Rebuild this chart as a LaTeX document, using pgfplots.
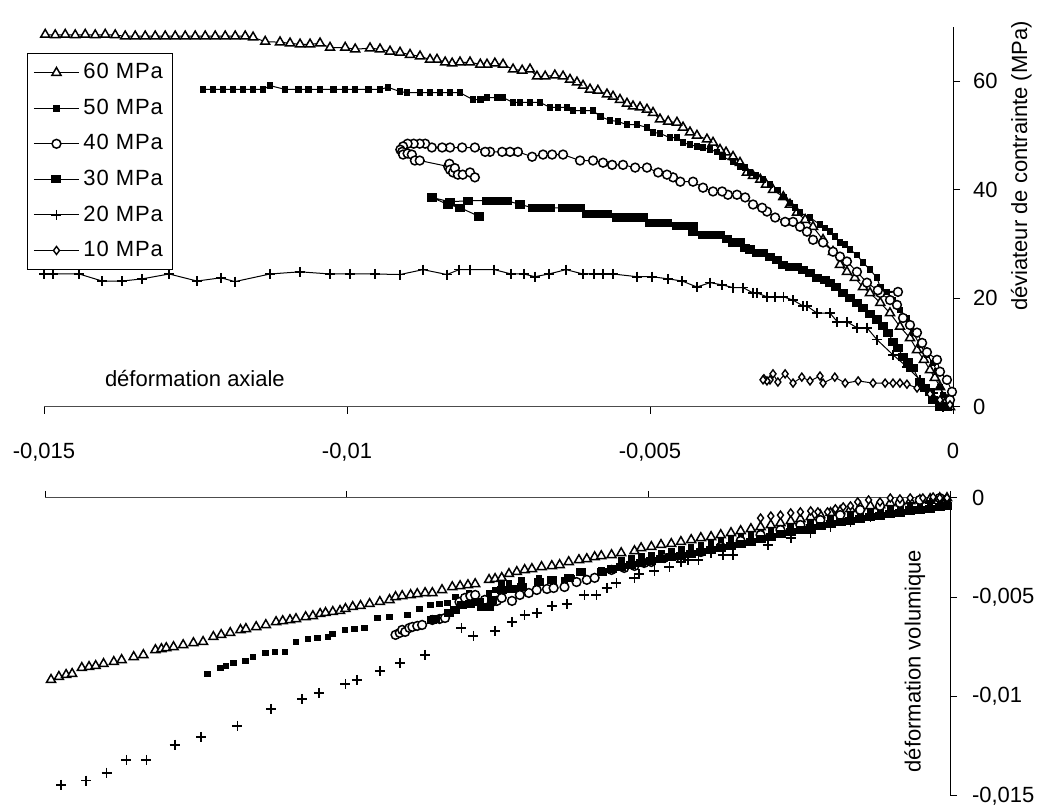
\documentclass[border=0pt]{standalone}
\usepackage{pgfplots}
\pgfplotsset{compat=1.18}
\usepackage{fontspec}
\setmainfont{Liberation Sans}
\newfontfamily\legfont[LetterSpace=4]{Liberation Sans}
\begin{document}
\begin{tikzpicture}
\useasboundingbox (0,0) rectangle (522.5pt,403.5pt);
\pgfplotsset{
  common/.style={
    scale only axis, clip=false, scaled ticks=false,
    tick align=outside, major tick length=3.5pt,
    tick style={black, line width=0.5pt},
    axis line style={-, line width=0.5pt},
    every tick label/.append style={font=\fontsize{11}{13}\selectfont},
  },
  m60/.style={black, line width=0.5pt, mark=triangle*, mark size=2.6pt, mark options={solid, fill=white, line width=0.75pt}},
  m50/.style={black, line width=0.5pt, mark=square*, mark size=1.4pt, mark options={solid}},
  m40/.style={black, line width=0.5pt, mark=*, mark size=2.2pt, mark options={solid, fill=white, line width=0.75pt}},
  m30/.style={black, line width=0.5pt, mark=square*, mark size=1.8pt, mark options={solid, xscale=1.25}},
  m20/.style={black, line width=0.5pt, mark=+, mark size=2.5pt, mark options={solid, line width=0.8pt}},
  m10/.style={black, line width=0.5pt, mark=diamond*, mark size=2pt, mark options={solid, fill=white, line width=0.7pt}},
}
% ---------------- top axis ----------------
\begin{axis}[common, at={(22pt,200pt)}, anchor=south west,
  width=454.5pt, height=190pt,
  xmin=-0.015, xmax=0, ymin=0, ymax=70,
  axis x line*=bottom, axis y line*=right,
  x axis line style={black!70},
  xtick={-0.015,-0.01,-0.005,0}, xticklabels={{-0,015},{-0,01},{-0,005},{0}},
  xticklabel style={yshift=-11pt},
  ytick={0,20,40,60}, yticklabels={0,20,40,60},
  yticklabel style={xshift=3pt},
  legend image code/.code={\draw[mark repeat=2,mark phase=2] plot coordinates {(0pt,0pt) (11.25pt,0pt) (22.5pt,0pt)};},
  legend cell align=left,
  legend style={at={(-0.0187,0.9316)}, anchor=north west, draw=black, line width=0.5pt,
    font=\legfont\fontsize{11}{13}\selectfont, row sep=4.6pt, inner xsep=3pt, inner ysep=3pt},
]
\addplot[m60] coordinates {(-0.00005,0) (-0.0001,1.3) (-0.000215,3.7) (-0.0003,5.4) (-0.00038,6.8) (-0.00048,8.7) (-0.000594,10.5) (-0.00071,12.7) (-0.000875,14.8) (-0.00104,17.3) (-0.0012,19.2) (-0.00137,21.0) (-0.001485,22.1) (-0.00162,23.8) (-0.00175,24.9) (-0.001865,26.2) (-0.00198,28.6) (-0.002145,30.8) (-0.00231,33.2) (-0.00244,34.5) (-0.002575,35.8) (-0.00269,37.3) (-0.0028,38.7) (-0.00297,40.0) (-0.003085,41.0) (-0.00318,41.9) (-0.0033,42.6) (-0.0034,43.2) (-0.003515,45.0) (-0.00363,46.1) (-0.003745,46.9) (-0.003845,47.4) (-0.00396,48.7) (-0.00406,49.3) (-0.004225,50.0) (-0.00434,50.6) (-0.004455,51.5) (-0.004555,52.4) (-0.0047,52.6) (-0.004835,53.0) (-0.00495,54.2) (-0.00505,54.8) (-0.005165,55.2) (-0.00528,55.4) (-0.00538,55.9) (-0.005495,56.6) (-0.00561,57.2) (-0.00571,57.6) (-0.00586,58.3) (-0.00599,58.5) (-0.006105,59.2) (-0.006205,59.8) (-0.00632,60.3) (-0.006435,60.9) (-0.00657,61.1) (-0.00673,60.9) (-0.006865,60.9) (-0.00698,62.2) (-0.00711,62.0) (-0.00726,62.2) (-0.007425,63.1) (-0.00756,63.3) (-0.00769,63.1) (-0.0078,63.1) (-0.00797,63.5) (-0.008135,63.5) (-0.008265,63.3) (-0.00838,63.5) (-0.008515,64.0) (-0.00863,64.0) (-0.008795,64.6) (-0.00896,64.9) (-0.009125,65.3) (-0.00929,65.5) (-0.009455,65.9) (-0.00962,66.1) (-0.009865,65.9) (-0.01003,66.2) (-0.01028,66.2) (-0.010445,67.0) (-0.01061,66.8) (-0.010775,66.8) (-0.01094,67.0) (-0.011105,67.2) (-0.01135,67.3) (-0.01155,68.1) (-0.01168,68.3) (-0.011845,68.3) (-0.01201,68.3) (-0.012175,68.3) (-0.01234,68.3) (-0.012505,68.3) (-0.01267,68.3) (-0.012835,68.3) (-0.013,68.3) (-0.013165,68.3) (-0.01333,68.3) (-0.013495,68.3) (-0.01366,68.3) (-0.013825,68.5) (-0.01399,68.6) (-0.014155,68.5) (-0.01432,68.6) (-0.014485,68.5) (-0.01465,68.6) (-0.014815,68.5) (-0.01498,68.6)};
\addlegendentry{60 MPa}
\addplot[m50] coordinates {(-0.0001,0) (-0.000165,2.2) (-0.000215,3.7) (-0.000264,6.5) (-0.00033,8.1) (-0.00043,9.6) (-0.000545,11.4) (-0.00066,13.7) (-0.00076,16.4) (-0.000875,17.9) (-0.00099,19.7) (-0.0011,21.2) (-0.0012,22.0) (-0.001255,23.8) (-0.00137,25.3) (-0.001485,26.6) (-0.001585,28.0) (-0.0017,29.0) (-0.00178,29.9) (-0.001865,30.3) (-0.00195,31.4) (-0.00203,32.3) (-0.00211,33.0) (-0.002195,33.6) (-0.00236,34.9) (-0.002525,35.8) (-0.00261,36.7) (-0.00269,37.6) (-0.0028,38.7) (-0.0029,40.0) (-0.00302,41.0) (-0.003135,41.9) (-0.00325,42.6) (-0.00335,43.2) (-0.00343,44.1) (-0.003515,44.3) (-0.00363,45.2) (-0.0038,46.1) (-0.003895,47.0) (-0.00401,47.4) (-0.004125,47.8) (-0.004225,48.0) (-0.00434,48.3) (-0.004455,48.7) (-0.004555,49.6) (-0.00467,49.6) (-0.004835,50.4) (-0.00495,50.6) (-0.00505,51.5) (-0.005215,52.0) (-0.00538,52.0) (-0.00553,52.6) (-0.00566,52.8) (-0.00582,53.5) (-0.00594,54.6) (-0.006105,54.6) (-0.00627,54.6) (-0.00637,55.2) (-0.006515,55.2) (-0.00665,55.2) (-0.006815,56.1) (-0.00698,56.1) (-0.007145,56.1) (-0.00726,56.1) (-0.007425,57.0) (-0.007525,57.0) (-0.00769,57.0) (-0.0078,56.6) (-0.00792,56.6) (-0.008135,57.9) (-0.0083,57.9) (-0.008465,57.9) (-0.00863,57.9) (-0.008795,57.9) (-0.00901,57.9) (-0.009125,58.1) (-0.009325,58.9) (-0.009455,58.5) (-0.00965,58.5) (-0.009865,58.5) (-0.01003,58.5) (-0.010225,58.5) (-0.010445,58.5) (-0.01064,58.5) (-0.010805,58.5) (-0.01102,58.5) (-0.01127,59.2) (-0.011385,58.5) (-0.01155,58.5) (-0.011715,58.5) (-0.01188,58.5) (-0.012045,58.5) (-0.01221,58.5) (-0.012375,58.5)};
\addlegendentry{50 MPa}
\addplot[m40] coordinates {(-0.00005,1.3) (-0.0000165,2.8) (-0.0001,5.0) (-0.000215,6.5) (-0.000264,8.7) (-0.00043,10.1) (-0.00051,11.8) (-0.000594,13.7) (-0.00071,15.1) (-0.000825,16.4) (-0.000924,18.8) (-0.00104,19.7) (-0.0012,21.0) (-0.000908,21.2) (-0.00124,21.5) (-0.00142,22.9) (-0.001585,24.9) (-0.00175,26.8) (-0.001865,27.7) (-0.00198,28.6) (-0.002145,30.3) (-0.00231,30.8) (-0.00241,32.3) (-0.002525,33.2) (-0.00264,34.1) (-0.00277,34.1) (-0.002935,34.9) (-0.00307,36.0) (-0.00315,36.7) (-0.0033,37.3) (-0.00343,38.6) (-0.003565,39.1) (-0.003715,39.1) (-0.00381,39.7) (-0.00396,39.7) (-0.004125,40.4) (-0.00429,41.5) (-0.0045,41.5) (-0.00462,42.3) (-0.00472,42.8) (-0.004865,43.2) (-0.00505,44.1) (-0.005245,44.1) (-0.005445,44.6) (-0.005625,44.6) (-0.005775,45.0) (-0.00594,45.4) (-0.006155,45.4) (-0.006435,46.5) (-0.006615,46.5) (-0.006765,46.5) (-0.006945,46.1) (-0.00718,47.0) (-0.00731,47.0) (-0.00744,47.0) (-0.00764,47.0) (-0.00772,47.0) (-0.00789,47.8) (-0.0081,47.8) (-0.0083,47.8) (-0.00843,47.8) (-0.0086,47.8) (-0.00871,48.5) (-0.0088,48.5) (-0.0089,48.5) (-0.009,48.5) (-0.009075,48.0) (-0.00912,47.4) (-0.00909,47.0) (-0.009075,46.5) (-0.009,46.7) (-0.00893,46.5) (-0.00888,45.4) (-0.0088,45.4) (-0.00833,44.3) (-0.00831,44.8) (-0.0083,43.7) (-0.00825,43.2) (-0.00822,44.0) (-0.00817,42.8) (-0.00809,42.8) (-0.00797,43.2) (-0.00789,42.3)};
\addlegendentry{40 MPa}
\addplot[m30] coordinates {(-0.0001,0) (-0.000215,0) (-0.00033,1.3) (-0.00038,2.8) (-0.00046,3.5) (-0.000545,4.6) (-0.00066,7.2) (-0.00074,8.3) (-0.000825,9.2) (-0.000908,10.9) (-0.00099,12.0) (-0.00107,13.7) (-0.001155,14.9) (-0.001255,16.1) (-0.00137,17.2) (-0.001485,18.3) (-0.001585,19.2) (-0.0017,20.1) (-0.001815,21.0) (-0.00193,22.1) (-0.00203,22.9) (-0.00211,23.4) (-0.002245,23.8) (-0.00236,24.7) (-0.002475,25.3) (-0.002575,25.8) (-0.00269,25.8) (-0.0028,26.2) (-0.0029,27.1) (-0.00302,27.7) (-0.003135,28.4) (-0.003235,28.4) (-0.00335,29.0) (-0.00343,29.3) (-0.003515,30.3) (-0.00363,30.3) (-0.00373,31.0) (-0.003845,31.7) (-0.00398,31.7) (-0.004125,31.7) (-0.00429,32.3) (-0.00429,33.4) (-0.00442,33.4) (-0.004555,33.4) (-0.00472,33.9) (-0.004865,33.9) (-0.005,33.9) (-0.005115,34.9) (-0.005245,34.9) (-0.005395,34.9) (-0.00554,34.9) (-0.00571,35.6) (-0.005875,35.6) (-0.00604,35.6) (-0.006155,36.7) (-0.00632,36.7) (-0.006435,36.7) (-0.00665,36.7) (-0.006815,36.7) (-0.00693,36.7) (-0.007145,37.3) (-0.00736,38.0) (-0.007525,38.0) (-0.00769,38.0) (-0.008,38.0) (-0.0083,37.8) (-0.0086,38.6) (-0.008335,37.3) (-0.00813,36.7) (-0.00782,35.1)};
\addlegendentry{30 MPa}
\addplot[m20] coordinates {(-0.000165,0) (-0.00033,2.6) (-0.000545,5.0) (-0.00076,7.4) (-0.00099,9.6) (-0.001255,12.4) (-0.00142,14.6) (-0.001585,14.6) (-0.00175,15.7) (-0.00191,15.7) (-0.00203,17.3) (-0.002245,17.3) (-0.00241,18.6) (-0.002475,18.6) (-0.00264,19.7) (-0.0028,20.3) (-0.002935,20.3) (-0.00307,20.3) (-0.003235,21.0) (-0.0033,21.0) (-0.003465,22.0) (-0.00363,22.0) (-0.00381,22.5) (-0.00401,22.9) (-0.004225,22.1) (-0.00447,23.2) (-0.0047,23.6) (-0.004965,24.0) (-0.005215,24.0) (-0.00561,24.5) (-0.005775,24.5) (-0.005925,24.5) (-0.006105,24.5) (-0.006385,25.3) (-0.00667,24.5) (-0.0069,24.0) (-0.00708,24.5) (-0.00729,24.5) (-0.00757,25.3) (-0.00797,25.3) (-0.00815,25.3) (-0.00835,24.4) (-0.008745,25.3) (-0.009125,24.4) (-0.00954,24.5) (-0.00995,24.5) (-0.01028,24.5) (-0.010775,24.9) (-0.01127,24.5) (-0.01185,23.1) (-0.01208,23.8) (-0.012475,23.2) (-0.012935,24.5) (-0.01338,23.6) (-0.01371,23.2) (-0.01404,23.2) (-0.01442,24.5) (-0.01485,24.5) (-0.0150,24.5)};
\addlegendentry{20 MPa}
\addplot[m10] coordinates {(-0.00005,0.4) (-0.000215,1.3) (-0.00038,2.4) (-0.000594,3.5) (-0.00076,4.2) (-0.000875,4.4) (-0.00099,4.4) (-0.00112,4.4) (-0.00132,4.4) (-0.001565,4.8) (-0.00178,4.4) (-0.00195,5.5) (-0.002145,4.4) (-0.002195,5.7) (-0.00236,4.8) (-0.002495,5.5) (-0.00264,4.4) (-0.00277,6.1) (-0.00289,4.6) (-0.00297,6.1) (-0.00302,5.0) (-0.00307,4.8) (-0.00312,5.2) (-0.003135,5.0)};
\addlegendentry{10 MPa}
\node[font=\fontsize{11}{13}\selectfont] at (rel axis cs:0.166,0.076) {déformation axiale};
\node[rotate=90, font=\fontsize{11}{13}\selectfont] at (rel axis cs:1.075,0.634) {déviateur de contrainte (MPa)};
\end{axis}
% ---------------- bottom axis ----------------
\begin{axis}[common, at={(22.5pt,5.5pt)}, anchor=south west,
  width=452.5pt, height=149pt,
  xmin=-0.015, xmax=0, ymin=-0.015, ymax=0,
  axis x line*=top, axis y line*=right,
  x axis line style={black!70},
  xtick={-0.015,-0.01,-0.005,0}, xticklabels={,,,},
  ytick={-0.015,-0.01,-0.005,0}, yticklabels={{-0,015},{-0,01},{-0,005},{0}},
  yticklabel style={xshift=4pt},
]
\addplot[m60, only marks] coordinates {(-0.0149,-0.00915) (-0.01477,-0.009) (-0.01465,-0.0089) (-0.01455,-0.00885) (-0.01439,-0.00855) (-0.01427,-0.0085) (-0.01416,-0.00845) (-0.01403,-0.00835) (-0.01386,-0.00825) (-0.01373,-0.00815) (-0.01353,-0.008) (-0.01337,-0.0079) (-0.01317,-0.00765) (-0.01307,-0.0076) (-0.01299,-0.00755) (-0.01287,-0.0075) (-0.01271,-0.0074) (-0.01254,-0.0073) (-0.01238,-0.00724) (-0.01221,-0.00699) (-0.01208,-0.00689) (-0.01193,-0.00679) (-0.01176,-0.00664) (-0.01167,-0.00659) (-0.0115,-0.00649) (-0.01134,-0.00639) (-0.01117,-0.00624) (-0.01106,-0.00619) (-0.01094,-0.00614) (-0.01084,-0.00609) (-0.01068,-0.00599) (-0.01056,-0.00594) (-0.01044,-0.00583) (-0.01035,-0.00578) (-0.01023,-0.00573) (-0.01011,-0.00568) (-0.01002,-0.00558) (-0.0099,-0.00548) (-0.00977,-0.00543) (-0.00962,-0.00533) (-0.00945,-0.00523) (-0.00929,-0.00513) (-0.00919,-0.00498) (-0.00908,-0.00493) (-0.00894,-0.00488) (-0.00883,-0.00483) (-0.0087,-0.00478) (-0.00858,-0.00478) (-0.00842,-0.00463) (-0.00825,-0.00448) (-0.00812,-0.00443) (-0.00799,-0.00438) (-0.00787,-0.00433) (-0.00764,-0.00412) (-0.00754,-0.00407) (-0.00743,-0.00402) (-0.00731,-0.00382) (-0.00718,-0.00372) (-0.00705,-0.00362) (-0.00693,-0.00357) (-0.00677,-0.00347) (-0.0066,-0.00342) (-0.00647,-0.00337) (-0.00632,-0.00322) (-0.00615,-0.00312) (-0.00602,-0.00307) (-0.00589,-0.00297) (-0.00578,-0.00292) (-0.00561,-0.00287) (-0.00545,-0.00277) (-0.00523,-0.00267) (-0.00512,-0.00252) (-0.00495,-0.00246) (-0.00479,-0.00236) (-0.00462,-0.00231) (-0.00446,-0.00221) (-0.00429,-0.00211) (-0.00413,-0.00201) (-0.00396,-0.00196) (-0.0038,-0.00186) (-0.00363,-0.00176) (-0.00347,-0.00166) (-0.0033,-0.00156) (-0.00314,-0.00146) (-0.00297,-0.00136) (-0.00281,-0.00126) (-0.00264,-0.00116) (-0.00248,-0.00106) (-0.00231,-0.00096) (-0.00215,-0.00086) (-0.00198,-0.00075) (-0.00182,-0.00065) (-0.00165,-0.00055) (-0.00149,-0.00045) (-0.00132,-0.0004) (-0.00116,-0.00035) (-0.00099,-0.00025) (-0.00083,-0.0002) (-0.00066,-0.00015) (-0.0005,-0.0001) (-0.00033,-0.00005) (-0.00017,0) (-0.00005,0)};
\addplot[m50, only marks] coordinates {(-0.01231,-0.00885) (-0.01209,-0.00855) (-0.012,-0.00845) (-0.01188,-0.0083) (-0.01168,-0.0082) (-0.01155,-0.008) (-0.01135,-0.0078) (-0.01119,-0.00775) (-0.01102,-0.00775) (-0.01084,-0.00724) (-0.01064,-0.00709) (-0.01048,-0.00704) (-0.01031,-0.00699) (-0.01023,-0.00684) (-0.01003,-0.00664) (-0.00987,-0.00659) (-0.0097,-0.00654) (-0.00949,-0.00604) (-0.00929,-0.00599) (-0.00899,-0.00589) (-0.00879,-0.00558) (-0.00861,-0.00538) (-0.00846,-0.00533) (-0.00833,-0.00528) (-0.0082,-0.00498) (-0.00797,-0.00478) (-0.00787,-0.00498) (-0.00764,-0.00478) (-0.00754,-0.00463) (-0.00743,-0.00428) (-0.00731,-0.00428) (-0.0071,-0.00412) (-0.00681,-0.00402) (-0.00639,-0.00412) (-0.00627,-0.00402) (-0.00611,-0.00377) (-0.00578,-0.00362) (-0.005445,-0.00312) (-0.00528,-0.00302) (-0.005115,-0.00292) (-0.00495,-0.00287) (-0.004785,-0.00277) (-0.00462,-0.00267) (-0.004455,-0.00257) (-0.00429,-0.00246) (-0.004125,-0.00236) (-0.00396,-0.00226) (-0.003795,-0.00216) (-0.00363,-0.00206) (-0.003465,-0.00196) (-0.0033,-0.00186) (-0.003135,-0.00176) (-0.00297,-0.00166) (-0.002805,-0.00156) (-0.00264,-0.00146) (-0.002475,-0.00131) (-0.00231,-0.00121) (-0.002145,-0.00111) (-0.00198,-0.00101) (-0.001815,-0.00096) (-0.00165,-0.00086) (-0.001485,-0.00075) (-0.00132,-0.0007) (-0.001155,-0.0006) (-0.00099,-0.0005) (-0.000825,-0.00045) (-0.00066,-0.00035) (-0.000495,-0.0003) (-0.00033,-0.00025) (-0.000165,-0.0002) (-0.00005,-0.00015)};
\addplot[m40, only marks] coordinates {(-0.00919,-0.00689) (-0.00912,-0.00679) (-0.00908,-0.00664) (-0.00903,-0.00674) (-0.00896,-0.00654) (-0.00891,-0.00649) (-0.00883,-0.00644) (-0.00875,-0.00639) (-0.00858,-0.00614) (-0.00846,-0.00609) (-0.00837,-0.00604) (-0.00813,-0.00523) (-0.00804,-0.00503) (-0.00795,-0.00493) (-0.00787,-0.00488) (-0.00771,-0.00513) (-0.00759,-0.00523) (-0.00751,-0.00518) (-0.00743,-0.00503) (-0.00726,-0.00518) (-0.00713,-0.00488) (-0.00698,-0.00478) (-0.00685,-0.00463) (-0.00668,-0.00458) (-0.00657,-0.00453) (-0.00639,-0.00448) (-0.00619,-0.00423) (-0.00602,-0.00412) (-0.00589,-0.00402) (-0.00561,-0.00362) (-0.0054,-0.00352) (-0.00523,-0.00342) (-0.00507,-0.00327) (-0.00495,-0.00322) (-0.00474,-0.00302) (-0.00446,-0.00302) (-0.00413,-0.00272) (-0.0038,-0.00246) (-0.00347,-0.00216) (-0.00314,-0.00186) (-0.00281,-0.00161) (-0.00248,-0.00136) (-0.00215,-0.00111) (-0.00182,-0.00086) (-0.00149,-0.0006) (-0.00116,-0.0004) (-0.00083,-0.00025) (-0.0005,-0.0001) (-0.00017,0)};
\addplot[m30, only marks] coordinates {(-0.00858,-0.00614) (-0.00853,-0.00609) (-0.0083,-0.00578) (-0.0082,-0.00563) (-0.00809,-0.00538) (-0.00795,-0.00533) (-0.0078,-0.00523) (-0.00776,-0.00548) (-0.00764,-0.00548) (-0.00759,-0.00513) (-0.00743,-0.00463) (-0.00726,-0.00458) (-0.0071,-0.00448) (-0.00681,-0.00423) (-0.0066,-0.00412) (-0.00632,-0.00402) (-0.00611,-0.00372) (-0.005775,-0.00372) (-0.00561,-0.00357) (-0.005445,-0.00347) (-0.00528,-0.00337) (-0.005115,-0.00327) (-0.00495,-0.00317) (-0.004785,-0.00307) (-0.00462,-0.00297) (-0.004455,-0.00292) (-0.00429,-0.00282) (-0.004125,-0.00272) (-0.00396,-0.00262) (-0.003795,-0.00252) (-0.00363,-0.00241) (-0.003465,-0.00231) (-0.0033,-0.00221) (-0.003135,-0.00206) (-0.00297,-0.00196) (-0.002805,-0.00181) (-0.00264,-0.00171) (-0.002475,-0.00161) (-0.00231,-0.00151) (-0.002145,-0.00141) (-0.00198,-0.00131) (-0.001815,-0.00121) (-0.00165,-0.00116) (-0.001485,-0.00106) (-0.00132,-0.00096) (-0.001155,-0.00091) (-0.00099,-0.0008) (-0.000825,-0.00075) (-0.00066,-0.00065) (-0.000495,-0.0006) (-0.00033,-0.00055) (-0.000165,-0.00045) (-0.00005,-0.0004)};
\addplot[m20, only marks] coordinates {(-0.01473,-0.01444) (-0.01432,-0.01423) (-0.01398,-0.01383) (-0.01365,-0.01318) (-0.01332,-0.01318) (-0.01285,-0.01242) (-0.01241,-0.01202) (-0.01181,-0.01147) (-0.01125,-0.01061) (-0.01074,-0.01011) (-0.01046,-0.00981) (-0.01002,-0.00936) (-0.00983,-0.00915) (-0.00945,-0.0087) (-0.00912,-0.0083) (-0.0087,-0.0079) (-0.0081,-0.00654) (-0.0079,-0.00694) (-0.00754,-0.00669) (-0.00726,-0.00624) (-0.00705,-0.00589) (-0.00685,-0.00578) (-0.0066,-0.00543) (-0.00635,-0.00533) (-0.00606,-0.00488) (-0.00586,-0.00488) (-0.00569,-0.00453) (-0.00553,-0.00428) (-0.00523,-0.00402) (-0.00515,-0.00382) (-0.0049,-0.00367) (-0.00465,-0.00347) (-0.00446,-0.00322) (-0.00434,-0.00312) (-0.00417,-0.00312) (-0.00396,-0.00277) (-0.00376,-0.00287) (-0.0036,-0.00287) (-0.00302,-0.00236) (-0.00264,-0.00201) (-0.00231,-0.00176) (-0.00198,-0.00146) (-0.00165,-0.00121) (-0.00132,-0.00096) (-0.00099,-0.0007) (-0.00066,-0.00045) (-0.00033,-0.00025) (-0.00008,-0.0001)};
\addplot[m10, only marks] coordinates {(-0.00314,-0.00101) (-0.00297,-0.00091) (-0.00281,-0.00086) (-0.00264,-0.00075) (-0.00248,-0.0007) (-0.00231,-0.00065) (-0.00219,-0.0007) (-0.00203,-0.0007) (-0.0019,-0.00055) (-0.00177,-0.00045) (-0.00165,-0.0004) (-0.00153,-0.0002) (-0.00135,-0.0001) (-0.00116,-0.0002) (-0.00099,0) (-0.00083,-0.00005) (-0.00066,0) (-0.00045,0) (-0.00028,0.00005) (-0.00017,0) (-0.00005,0)};
\node[rotate=90, font=\fontsize{11}{13}\selectfont] at (rel axis cs:0.961,0.453) {déformation volumique};
\end{axis}
\end{tikzpicture}
\end{document}
